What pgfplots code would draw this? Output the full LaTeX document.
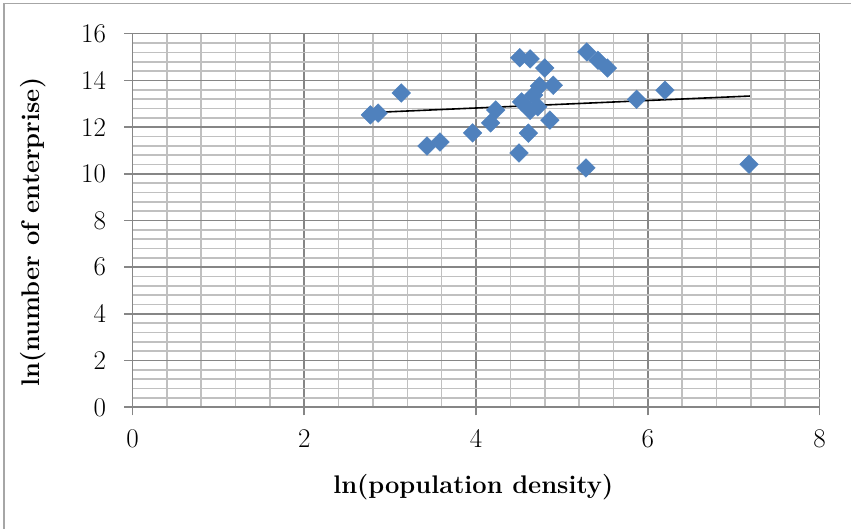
\documentclass[border=0pt]{standalone}
\usepackage{pgfplots}
\pgfplotsset{compat=1.18}
\definecolor{markblue}{RGB}{79,129,189}
\definecolor{majgrid}{RGB}{134,134,134}
\definecolor{mingrid}{RGB}{192,192,192}

\begin{document}
\begin{tikzpicture}
\useasboundingbox (-132.5pt,-121.7pt) rectangle (718.5pt,407.3pt);
\draw[gray!70,line width=1.4pt] (-128.5pt,-121.7pt) -- (-128.5pt,403.8pt) -- (718.5pt,403.8pt);
\begin{axis}[
  at={(0pt,0pt)}, anchor=south west,
  scale only axis, width=687pt, height=373.6pt,
  xmin=0, xmax=8, ymin=0, ymax=16,
  xtick={0,2,...,8}, ytick={0,2,...,16},
  minor x tick num=4, minor y tick num=4,
  grid=both,
  major grid style={majgrid,line width=1.6pt},
  minor grid style={mingrid,line width=1.6pt},
  axis x line*=bottom, axis y line*=left,
  axis line style={majgrid,line width=1.6pt,-},
  tick align=outside,
  major tick length=8pt, minor tick length=0pt,
  major tick style={majgrid,line width=1.6pt},
  xticklabel={\pgfmathprintnumber[assume math mode=true]{\tick}},
  yticklabel={\pgfmathprintnumber[assume math mode=true]{\tick}},
  tick label style={font=\fontsize{27}{32}\selectfont},
  xticklabel style={yshift=-11pt},
  yticklabel style={xshift=-15pt},
  xlabel={\bfseries ln(population density)},
  ylabel={\bfseries ln(number of enterprise)},
  label style={font=\fontsize{25.5}{30}\selectfont},
  xlabel style={at={(axis description cs:0.496,-0.214)}, anchor=center},
  ylabel style={at={(axis description cs:-0.145,0.469)}, anchor=center},
  clip=false,
]
\addplot[only marks, mark=square*, mark size=6.6pt,
  mark options={rotate=45, fill=markblue, draw=markblue}] coordinates {
  (2.77,12.52) (2.86,12.60) (3.13,13.46) (3.43,11.19) (3.58,11.36)
  (3.96,11.75) (4.17,12.18) (4.23,12.73) (4.50,10.89) (4.51,14.97)
  (4.63,14.92) (4.80,14.53) (4.74,13.76) (4.90,13.79) (4.67,13.37)
  (4.53,13.08) (4.63,12.72) (4.72,12.87) (4.86,12.30) (4.61,11.74)
  (5.29,15.22) (5.42,14.86) (5.53,14.53) (5.28,10.25) (5.87,13.19)
  (6.20,13.58) (7.18,10.41)
};
\addplot[black, line width=1.6pt, no marks] coordinates {(2.77,12.62) (7.19,13.33)};
\end{axis}
\end{tikzpicture}
\end{document}
